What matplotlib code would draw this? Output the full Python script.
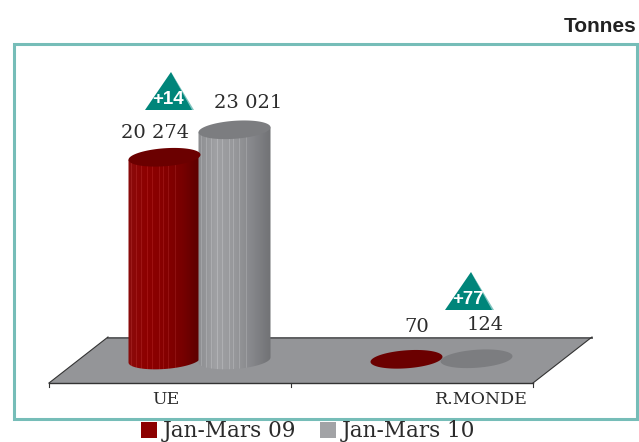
import matplotlib
matplotlib.use('Agg')
import matplotlib.pyplot as plt
import numpy as np
from matplotlib.patches import Polygon, Rectangle, PathPatch, Patch
from matplotlib.path import Path
from matplotlib.transforms import Affine2D

W, H = 639, 442

categories = ['UE', 'R.MONDE']
series_names = ['Jan-Mars 09', 'Jan-Mars 10']
values_09 = [20274, 70]
values_10 = [23021, 124]
labels_09 = ['20 274', '70']
labels_10 = ['23 021', '124']
evolutions = ['+14', '+77']

# scale of the picture: 1 px = 100 tonnes, ground at y=360 px
BASE_PX = 360
PX_PER_T = 0.01
# category spacing in px, first category centre in px
CAT_STEP = 242
CAT0 = 199.5
OFFSET = 35 / CAT_STEP
RX = 36 / CAT_STEP
RY = 9 / PX_PER_T
TILT = 2.5 / PX_PER_T  # ellipses lean up to the right

RED_STOPS = ['#8a0c0c', '#8e0000', '#860000', '#780000', '#5c0000']
GREY_STOPS = ['#8d8e91', '#a0a1a4', '#97989b', '#85868a', '#717275']
FACETS = (3, 8, 13, 19, 24, 31, 35, 40, 47)


def shades(stops, n=72):
    rgb = np.array([matplotlib.colors.to_rgb(c) for c in stops])
    pos = np.linspace(0, 1, len(stops))
    x = np.linspace(0, 1, n)
    col = np.stack([np.interp(x, pos, rgb[:, i]) for i in range(3)], axis=1)
    # lighter vertical facets like the 3D rendering
    for k in FACETS:
        col[k] = np.minimum(col[k] + 0.07, 1)
    return col[np.newaxis, :, :]


def ellipse_xy(x, y, t):
    return x + RX * np.cos(t), y + RY * np.sin(t) + TILT * np.cos(t)


def cylinder(ax, x, value, stops, top_color):
    left, right = x - RX, x + RX
    if value > RY:
        # body : straight sides and a rounded bottom
        bx, by = ellipse_xy(x, 0, np.linspace(np.pi, 2 * np.pi, 50))
        verts = [(left, value - TILT)] + list(zip(bx, by)) + [(right, value + TILT), (left, value - TILT)]
        clip = PathPatch(Path(verts), transform=ax.transData, fc='none', ec='none')
        ax.add_patch(clip)
        im = ax.imshow(shades(stops), extent=[left, right, -RY - TILT, value + TILT],
                       aspect='auto', interpolation='nearest', zorder=3)
        im.set_clip_path(clip)
    tx, ty = ellipse_xy(x, value, np.linspace(0, 2 * np.pi, 80))
    ax.add_patch(Polygon(np.column_stack([tx, ty]), fc=top_color, ec='none', zorder=3.1))


def main():
    fig = plt.figure(figsize=(W / 100, H / 100), dpi=100)
    ax = fig.add_axes([0, 0, 1, 1])
    ax.axis('off')
    xlim = (-CAT0 / CAT_STEP, (W - CAT0) / CAT_STEP)
    ylim = ((BASE_PX - H) / PX_PER_T, BASE_PX / PX_PER_T)

    # transform for the decoration, in picture pixels
    px = Affine2D().scale(1 / W, -1 / H).translate(0, 1) + fig.transFigure

    # frame
    ax.add_patch(Rectangle((13.5, 43.5), 623, 375, fc='white', ec='#76bdb8', lw=2.2,
                           transform=px, zorder=0))
    # floor
    ax.add_patch(Polygon([(49, 383), (533, 383), (592, 337), (108, 337)], fc='#949598',
                         ec='none', transform=px, zorder=1))
    ax.plot([108, 592], [337.5, 337.5], color='#5f6062', lw=1.4, transform=px, zorder=1.5)
    ax.plot([49, 108], [383, 337], color='#333333', lw=0.8, transform=px, zorder=1.5)
    ax.plot([533, 592], [383, 337], color='#333333', lw=0.8, transform=px, zorder=1.5)
    ax.plot([49, 533], [382.5, 382.5], color='#333333', lw=1.0, transform=px, zorder=1.5)
    for tx in (49, 291, 533):
        ax.plot([tx, tx], [383, 387], color='#333333', lw=0.8, transform=px, zorder=1.5)

    # cylinders
    for i in range(len(categories)):
        for x, v, stops, top in ((i - OFFSET, values_09[i], RED_STOPS, '#6b0000'),
                                 (i + OFFSET, values_10[i], GREY_STOPS, '#7c7d80')):
            cylinder(ax, x, v, stops, top)
    ax.set_xlim(*xlim)
    ax.set_ylim(*ylim)

    # texts
    serif = dict(family='DejaVu Serif', color='#2b2b2b', transform=px, ha='center', va='center')
    for x, y, s in ((155, 133, labels_09[0]), (248, 103, labels_10[0]),
                    (417, 327, labels_09[1]), (485, 325, labels_10[1])):
        ax.text(x, y, s, fontsize=14, **serif)
    for x, y, s in ((166, 400, categories[0]), (481, 400, categories[1])):
        ax.text(x, y, s, fontsize=12.5, **serif)

    # evolution triangles
    for (x0, y0), s in zip(((145, 72), (445, 272)), evolutions):
        ax.add_patch(Polygon([(x0 + 26, y0), (x0 + 49, y0 + 38), (x0 + 46, y0 + 38)], fc='#7fc4bf',
                             ec='none', transform=px, zorder=4))
        ax.add_patch(Polygon([(x0 + 26, y0), (x0 + 47, y0 + 38), (x0, y0 + 38)], fc='#00857a',
                             ec='none', transform=px, zorder=4))
        ax.text(x0 + 23.5, y0 + 28, s, color='white', family='Liberation Sans', weight='bold',
                fontsize=13.5, ha='center', va='center', transform=px, zorder=5)

    ax.text(637, 26, 'Tonnes', family='Liberation Sans', weight='bold', fontsize=15,
            color='#222222', ha='right', va='center', transform=px)

    handles = [Patch(fc='#8c0000', ec='none', label=series_names[0]),
               Patch(fc='#a2a3a6', ec='none', label=series_names[1])]
    fig.legend(handles=handles, loc='center', bbox_to_anchor=(308 / W, 1 - 431.5 / H), ncol=2,
               frameon=False, prop=dict(family='DejaVu Serif', size=15.5), handlelength=0.76,
               handleheight=0.76, handletextpad=0.25, columnspacing=1.1, borderpad=0,
               labelcolor='#2b2b2b')

    fig.savefig('out.png', dpi=100)


if __name__ == "__main__":
    main()
